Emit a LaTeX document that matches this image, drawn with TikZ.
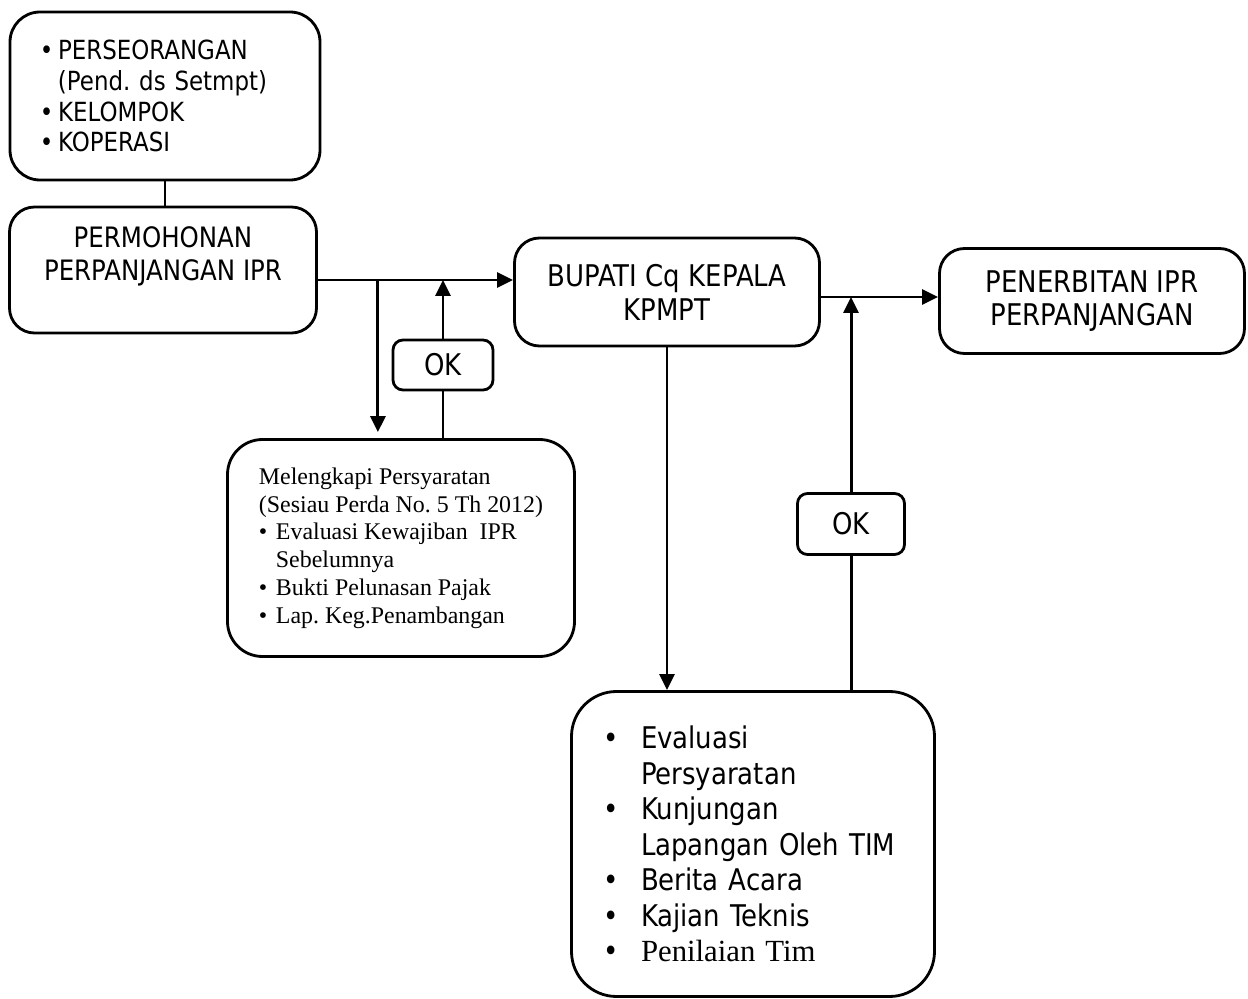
\documentclass[tikz,border=0pt]{standalone}
\usepackage{fontspec}
\setmainfont{DejaVu Sans}[FakeStretch=0.87]
\newfontfamily\timesfont{Liberation Serif}
\usetikzlibrary{arrows.meta, positioning}
\frenchspacing

\begin{document}
\begin{tikzpicture}[x=0.2mm, y=-0.2mm, line width=1.7pt, >={Triangle[length=3.2mm, width=3mm]},
    box/.style={rectangle, draw, line width=1.6pt, rounded corners=5mm, align=center},
    okbox/.style={box, rounded corners=2mm, minimum width=20mm, minimum height=10mm, font=\fontsize{17}{19}\selectfont}]
\useasboundingbox (0,0) rectangle (1248,999);
\node[box, minimum width=62mm, minimum height=33.6mm, rounded corners=6mm, text width=50mm, align=left, font=\fontsize{15}{17.6}\selectfont] (grp) at (165,96) {\makebox[3.6mm][l]{•}PERSEORANGAN\\\hspace*{3.6mm}(Pend. ds Setmpt)\\\makebox[3.6mm][l]{•}KELOMPOK\\\makebox[3.6mm][l]{•}KOPERASI};
\node[box, minimum width=61.4mm, minimum height=25.2mm] (mohon) at (163,270) {};
\node[align=center, font=\fontsize{16}{18.8}\selectfont] (mohontxt) at (163,256) {PERMOHONAN\\PERPANJANGAN IPR};
\node[box, minimum width=61mm, minimum height=21.6mm, font=\fontsize{17}{19.3}\selectfont] (bupati) at (667,292) {BUPATI Cq KEPALA\\KPMPT};
\node[box, minimum width=61mm, minimum height=21mm, font=\fontsize{17}{18.8}\selectfont] (pener) at (1092,301) {PENERBITAN IPR\\PERPANJANGAN};
\node[okbox] (ok1) at (443,365) {OK};
\node[box, minimum width=69.4mm, minimum height=43.4mm, rounded corners=7mm, align=left, font=\timesfont\fontsize{13.6}{15.8}\selectfont] (syarat) at (401,548) {Melengkapi Persyaratan\\(Sesiau Perda No. 5 Th 2012)\\\makebox[3.4mm][l]{•}Evaluasi Kewajiban~ IPR\\\hspace*{3.4mm}Sebelumnya\\\makebox[3.4mm][l]{•}Bukti Pelunasan Pajak\\\makebox[3.4mm][l]{•}Lap. Keg.Penambangan};
\node[okbox, minimum width=21.4mm, minimum height=12.2mm] (ok2) at (851,524) {OK};
\node[box, minimum width=72.6mm, minimum height=61mm, rounded corners=9mm, text width=60mm, align=left, font=\fontsize{17}{20.2}\selectfont] (cek) at (753,844) {\makebox[7.6mm][l]{•}Evaluasi\\\hspace*{7.6mm}Persyaratan\\\makebox[7.6mm][l]{•}Kunjungan\\\hspace*{7.6mm}Lapangan Oleh TIM\\\makebox[7.6mm][l]{•}Berita Acara\\\makebox[7.6mm][l]{•}Kajian Teknis\\\makebox[7.6mm][l]{•}{\timesfont\fontsize{17.5}{20.2}\selectfont Penilaian Tim}};
\coordinate (m1) at ([yshift=-2mm]mohon.east);
\coordinate (m2) at ([yshift=-1mm]bupati.east);
\draw (grp.south) -- (grp.south |- mohon.north);
\draw[->] (m1) -- (m1 -| bupati.west);
\draw[->, shorten >=1.2mm] ([xshift=12mm]m1) -- ([xshift=12mm]m1 |- syarat.north);
\draw (syarat.north -| ok1) -- (ok1.south);
\draw[->] (ok1.north) -- (ok1.north |- m1);
\draw[->] (m2) -- (m2 -| pener.west);
\draw[->] (bupati.south) -- (bupati.south |- cek.north);
\draw (cek.north -| ok2) -- (ok2.south);
\draw[->] (ok2.north) -- (ok2.north |- m2);
\end{tikzpicture}
\end{document}
